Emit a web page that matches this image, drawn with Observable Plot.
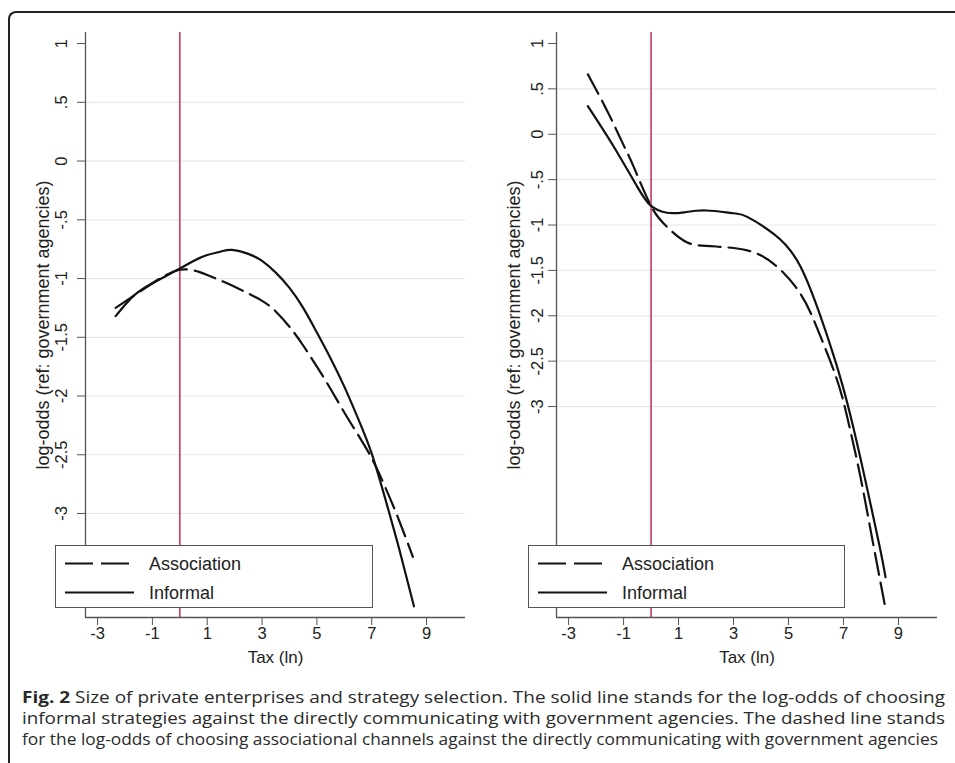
<!DOCTYPE html>
<html>
<head>
<meta charset="utf-8">
<script src="https://cdn.jsdelivr.net/npm/d3@7"></script>
<script src="https://cdn.jsdelivr.net/npm/@observablehq/plot@0.6"></script>
<style>
  html, body { margin: 0; padding: 0; background: #fff; }
  #wrap { position: relative; width: 955px; height: 763px; overflow: hidden; background: #fff; }
  #border { position: absolute; left: 8px; top: 11px; width: 1000px; height: 800px;
    border-top: 2px solid #222; border-left: 2px solid #222; border-top-left-radius: 8px; box-sizing: border-box; }
  .panel { position: absolute; top: 0; }
  .legend { position: absolute; top: 545px; height: 63px; box-sizing: border-box; border: 1.3px solid #555;
    background: #fff; font-family: 'Liberation Sans', Arial, sans-serif; font-size: 18px; color: #222; }
  .legend svg { position: absolute; left: 0; top: 0; }
  .legend .lab { position: absolute; left: 93px; line-height: 18px; white-space: nowrap; }
  #caption { position: absolute; left: 22px; top: 686px; font-family: 'Open Sans', sans-serif; font-size: 16.5px;
    line-height: 21.2px; color: #2a2a2a; }
  #caption .ln { white-space: nowrap; transform-origin: 0 0; width: max-content; }
</style>
</head>
<body>
<div id="wrap">
  <div id="border"></div>
  <div id="left" class="panel" style="left:0px"></div>
  <div id="right" class="panel" style="left:477px"></div>
  <div id="caption"></div>
</div>
<script>
// ---- data ----
const xTicks = [-3, -1, 1, 3, 5, 7, 9];
const xTickLabels = ["-3", "-1", "1", "3", "5", "7", "9"];
const yTicks = [1, 0.5, 0, -0.5, -1, -1.5, -2, -2.5, -3];
const yTickLabels = ["1", ".5", "0", "-.5", "-1", "-1.5", "-2", "-2.5", "-3"];
const gridValues = [0.5, 0, -0.5, -1, -1.5, -2, -2.5, -3];
const xDomain = [-3.44, 10.42];
const yDomainLeft = [-3.885, 1.094];
const yDomainRight = [-5.324, 1.121];
const refLine = [0];
const xTitle = "Tax (ln)";
const yTitle = "log-odds (ref: government agencies)";
const seriesNames = ["Association", "Informal"];

// left panel
const leftAssociation = [
  [-2.34, -1.25], [-1.7, -1.15], [-1, -1.04], [-0.5, -0.97], [0, -0.925], [0.5, -0.93],
  [1, -0.97], [2, -1.07], [3, -1.19], [3.5, -1.28], [4, -1.41], [4.5, -1.57], [5, -1.75],
  [5.5, -1.94], [6, -2.14], [6.5, -2.33], [7, -2.53], [7.5, -2.78], [8, -3.06], [8.5, -3.37]
];
const leftInformal = [
  [-2.34, -1.32], [-1.7, -1.15], [-1, -1.04], [0, -0.915], [0.5, -0.85], [1, -0.80],
  [1.5, -0.77], [1.9, -0.756], [2.5, -0.79], [3, -0.85], [3.5, -0.95], [4, -1.08],
  [4.5, -1.25], [5, -1.46], [5.5, -1.68], [6, -1.92], [6.5, -2.19], [7, -2.49],
  [7.5, -2.88], [8, -3.3], [8.54, -3.79]
];
// right panel
const rightAssociation = [
  [-2.3, 0.66], [-1.6, 0.26], [-1, -0.12], [-0.63, -0.36], [0, -0.79], [0.58, -1.02],
  [1.3, -1.19], [2, -1.23], [2.5, -1.24], [3.5, -1.28], [4.47, -1.43], [5.44, -1.76],
  [6.1, -2.18], [6.77, -2.71], [7.2, -3.2], [7.62, -3.78], [8.06, -4.48], [8.5, -5.18]
];
const rightInformal = [
  [-2.3, 0.31], [-1.35, -0.14], [-0.5, -0.58], [0, -0.79], [0.58, -0.865], [1.2, -0.86],
  [2, -0.84], [3, -0.87], [3.5, -0.91], [4.47, -1.10], [5.44, -1.46], [6.35, -2.17],
  [6.95, -2.75], [7.35, -3.22], [7.75, -3.75], [8.3, -4.52], [8.53, -4.88]
];
const captionBold = "Fig. 2";
const captionLines = [
  " Size of private enterprises and strategy selection. The solid line stands for the log-odds of choosing",
  "informal strategies against the directly communicating with government agencies. The dashed line stands",
  "for the log-odds of choosing associational channels against the directly communicating with government agencies"
];
const captionWidths = [923, 923, 916];

// ---- drawing ----
const dashPattern = "22,8";
function panel({yDomain, assoc, inform, marginLeft, marginRight, yTickPad}) {
  return Plot.plot({
    width: 477, height: 680,
    marginLeft, marginRight, marginTop: 32, marginBottom: 63,
    x: {domain: xDomain},
    y: {domain: yDomain},
    style: {fontFamily: "'Liberation Sans', Arial, sans-serif", fontSize: "16px", color: "#222", background: "transparent", overflow: "visible"},
    marks: [
      Plot.ruleY(gridValues, {stroke: "#e1e9ee", strokeWidth: 1.2}),
      Plot.ruleX(refLine, {stroke: "#c43b62", strokeWidth: 1.6}),
      Plot.line(assoc, {x: d => d[0], y: d => d[1], curve: "natural", stroke: "#111", strokeWidth: 2.2, strokeDasharray: dashPattern}),
      Plot.line(inform, {x: d => d[0], y: d => d[1], curve: "natural", stroke: "#111", strokeWidth: 2.2}),
      Plot.ruleX([xDomain[0]], {stroke: "#555", strokeWidth: 1.3}),
      Plot.ruleY([yDomain[0]], {stroke: "#555", strokeWidth: 1.3}),
      Plot.axisX({ticks: xTicks, tickSize: 8, tickPadding: 2, label: null, stroke: "#555", fill: "#222", fontSize: 16.5,
        tickFormat: d => xTickLabels[xTicks.indexOf(d)]}),
      Plot.axisY({ticks: yTicks, tickSize: 8, tickRotate: -90, tickPadding: yTickPad, label: null,
        tickFormat: d => yTickLabels[yTicks.indexOf(d)], stroke: "#555", fill: "#222", fontSize: 16.5}),
      Plot.text([xTitle], {text: d => d, frameAnchor: "bottom", lineAnchor: "middle", dy: 40, fontSize: 17, fill: "#222"}),
      Plot.text([yTitle], {text: d => d, frameAnchor: "left", textAnchor: "middle", lineAnchor: "middle", rotate: -90, dx: -42, fontSize: 18, fill: "#222"})
    ]
  });
}

document.getElementById("left").appendChild(panel({yDomain: yDomainLeft, assoc: leftAssociation, inform: leftInformal, marginLeft: 85, marginRight: 12, yTickPad: 11}));
document.getElementById("right").appendChild(panel({yDomain: yDomainRight, assoc: rightAssociation, inform: rightInformal, marginLeft: 79, marginRight: 17, yTickPad: 5.5}));

// legends (overlaid boxes)
function legend(left, width) {
  const div = document.createElement("div");
  div.className = "legend";
  div.style.left = left + "px";
  div.style.width = width + "px";
  div.innerHTML = `<svg width="${width}" height="63">
      <line x1="9" x2="74" y1="17.5" y2="17.5" stroke="#111" stroke-width="2.2" stroke-dasharray="28,8"/>
      <line x1="9" x2="78" y1="46.5" y2="46.5" stroke="#111" stroke-width="2.2"/>
    </svg>
    <div class="lab" style="top:8.5px">${seriesNames[0]}</div>
    <div class="lab" style="top:37.5px">${seriesNames[1]}</div>`;
  document.getElementById("wrap").appendChild(div);
}
legend(55, 318);
legend(528, 317);

// caption
const cap = document.getElementById("caption");
captionLines.forEach((t, i) => {
  const ln = document.createElement("div");
  ln.className = "ln";
  if (i === 0) {
    const b = document.createElement("b");
    b.textContent = captionBold;
    ln.appendChild(b);
  }
  ln.appendChild(document.createTextNode(t));
  cap.appendChild(ln);
});
Array.from(cap.children).forEach((ln, i) => {
  const w = ln.getBoundingClientRect().width;
  ln.style.transform = `scaleX(${captionWidths[i] / w})`;
});
</script>
</body>
</html>
